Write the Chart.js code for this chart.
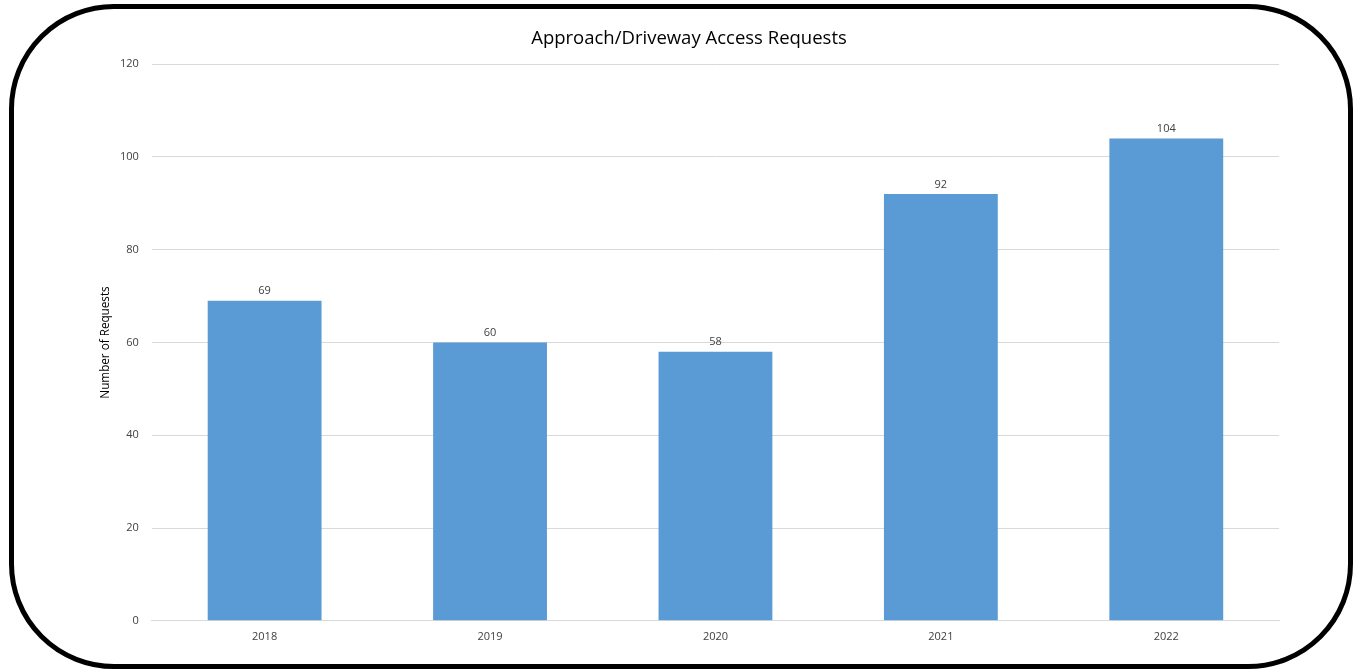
<!DOCTYPE html>
<html>
<head>
<meta charset="utf-8">
<script src="https://cdn.jsdelivr.net/npm/chart.js@4"></script>
<style>
  html, body { margin:0; padding:0; background:#fff; }
  #wrap { position:absolute; left:0; top:0; width:1358px; height:670px; }
  #frame { position:absolute; left:9px; top:4px; width:1334px; height:655px; border:5px solid #000; border-radius:105px; pointer-events:none; }
  canvas { position:absolute; left:0; top:0; }
</style>
</head>
<body>
<div id="wrap">
  <canvas id="c" width="1358" height="670"></canvas>
  <div id="frame"></div>
</div>
<script>
const categories = ["2018", "2019", "2020", "2021", "2022"];
const requests = [69, 60, 58, 92, 104];
const yTicks = [0, 20, 40, 60, 80, 100, 120];
const chartTitle = "Approach/Driveway Access Requests";
const yTitle = "Number of Requests";

const FONT = "'Open Sans', 'Liberation Sans', sans-serif";

const valueLabels = {
  id: 'valueLabels',
  afterDatasetsDraw(chart) {
    const ctx = chart.ctx;
    const meta = chart.getDatasetMeta(0);
    ctx.save();
    ctx.font = "11px " + FONT;
    ctx.fillStyle = "#404040";
    ctx.textAlign = "center";
    ctx.textBaseline = "bottom";
    meta.data.forEach((bar, i) => {
      ctx.fillText(String(requests[i]), bar.x, bar.y - 4);
    });
    ctx.restore();
  }
};

new Chart(document.getElementById('c'), {
  type: 'bar',
  data: {
    labels: categories,
    datasets: [{
      data: requests,
      backgroundColor: '#5B9BD5',
      borderWidth: 0,
      barPercentage: 0.505,
      categoryPercentage: 1.0
    }]
  },
  options: {
    responsive: false,
    animation: false,
    layout: { padding: { left: 99, right: 79, top: 20, bottom: 18 } },
    plugins: {
      legend: { display: false },
      tooltip: { enabled: false },
      title: {
        display: true,
        text: chartTitle,
        color: '#000',
        font: { family: FONT, size: 18.5, weight: 'normal' },
        padding: { top: 8, bottom: 14 }
      }
    },
    scales: {
      x: {
        grid: { display: false, drawTicks: false },
        border: { display: true, color: '#d9d9d9', width: 1 },
        ticks: { color: '#404040', font: { family: FONT, size: 11 }, padding: 9 }
      },
      y: {
        min: 0,
        max: 120,
        afterBuildTicks(axis) { axis.ticks = yTicks.map(v => ({ value: v })); },
        grid: { color: '#d9d9d9', drawTicks: false },
        border: { display: false },
        ticks: { color: '#404040', font: { family: FONT, size: 11 }, padding: 13 },
        title: {
          display: true,
          text: yTitle,
          color: '#000',
          font: { family: FONT, size: 11.7 },
          padding: { top: 0, bottom: -6 }
        }
      }
    }
  },
  plugins: [valueLabels]
});
</script>
</body>
</html>
